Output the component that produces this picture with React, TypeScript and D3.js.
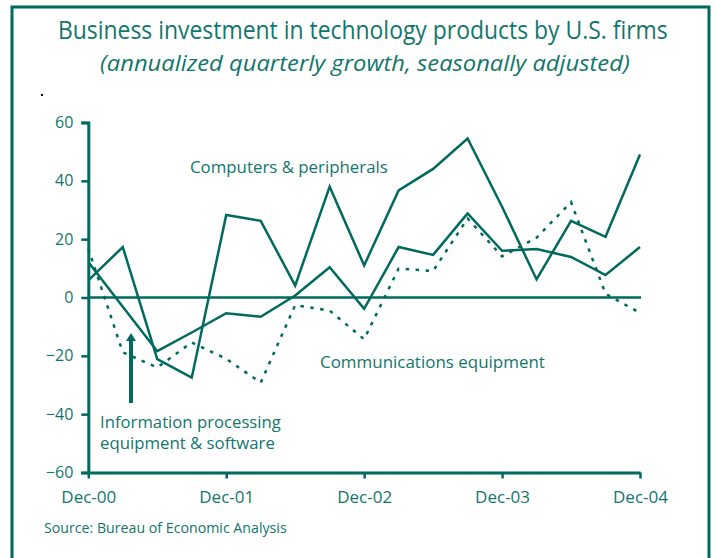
import { useEffect, useRef } from 'react'
import * as d3 from 'd3'

const quarters = [
  'Dec-00', 'Mar-01', 'Jun-01', 'Sep-01', 'Dec-01', 'Mar-02', 'Jun-02', 'Sep-02', 'Dec-02',
  'Mar-03', 'Jun-03', 'Sep-03', 'Dec-03', 'Mar-04', 'Jun-04', 'Sep-04', 'Dec-04',
]
const computers = [5.9, 17.3, -21.1, -27.5, 28.3, 26.3, 4.1, 38.0, 11.0, 36.7, 44.1, 54.5, 31.1, 6.2, 26.3, 20.8, 49.0]
const infoProcessing = [12.2, -3.2, -18.4, -12.0, -5.4, -6.6, 0.7, 10.4, -3.9, 17.3, 14.6, 28.8, 16.0, 16.6, 13.9, 7.7, 17.3]
const communications = [16.8, -18.8, -24.0, -15.4, -21.0, -29.2, -2.6, -4.5, -14.3, 9.9, 9.1, 27.1, 14.1, 20.5, 32.7, 1.3, -5.3]
const yTicks = [-60, -40, -20, 0, 20, 40, 60]
const xTickLabels = ['Dec-00', 'Dec-01', 'Dec-02', 'Dec-03', 'Dec-04']

const teal = '#006a5e'
const textTeal = '#12766b'
const font = '"Open Sans", sans-serif'

export default function App() {
  const ref = useRef<SVGSVGElement>(null)

  useEffect(() => {
    const svg = d3.select(ref.current)
    svg.selectAll('*').remove()

    const x = d3.scaleLinear().domain([0, quarters.length - 1]).range([88.3, 640])
    const y = d3.scaleLinear().domain([-60, 60]).range([472.5, 122.5])

    // text squeezed horizontally to a given width (the original face is narrow)
    const fitText = (t: string, tx: number, ty: number, w: number, size: number, italic = false) => {
      const el = svg.append('text')
        .style('font-family', font).style('font-size', `${size}px`)
        .style('font-style', italic ? 'italic' : 'normal')
        .attr('fill', textTeal).text(t)
      const natural = (el.node() as SVGTextElement).getComputedTextLength()
      el.attr('transform', `translate(${tx},${ty}) scale(${w / natural},1)`)
      return el
    }

    // frame
    svg.append('path')
      .attr('d', 'M12,560 V7 H709 V560')
      .attr('fill', 'none')
      .attr('stroke', teal)
      .attr('stroke-width', 3)

    svg.append('rect')
      .attr('x', 41).attr('y', 94).attr('width', 2).attr('height', 2)
      .attr('fill', '#000')

    fitText('Business investment in technology products by U.S. firms', 58, 38.5, 610, 25)
    fitText('(annualized quarterly growth, seasonally adjusted)', 100, 71, 530, 22, true)

    // zero line
    svg.append('line')
      .attr('x1', x(0)).attr('x2', x(quarters.length - 1) + 1)
      .attr('y1', y(0)).attr('y2', y(0))
      .attr('stroke', teal).attr('stroke-width', 2.5)

    // y axis
    const yAxis = svg.append('g').attr('transform', `translate(${x(0)},0)`)
      .call(d3.axisLeft(y).tickValues(yTicks).tickSize(7).tickPadding(8).tickFormat(d3.format('d')))
    yAxis.select('.domain').attr('stroke', teal).attr('stroke-width', 3)
    yAxis.selectAll('.tick line').attr('stroke', teal).attr('stroke-width', 2.5)
    yAxis.selectAll('.tick text')
      .attr('fill', textTeal).style('font-family', font).style('font-size', '16px')

    // x axis
    const yearIdx = xTickLabels.map(l => quarters.indexOf(l))
    const xAxis = svg.append('g').attr('transform', `translate(0,${y(-60)})`)
      .call(d3.axisBottom(x).tickValues(yearIdx).tickSize(6).tickSizeOuter(0).tickPadding(12)
        .tickFormat(d => quarters[d as number]))
    xAxis.select('.domain').attr('stroke', teal).attr('stroke-width', 3)
    xAxis.selectAll('.tick line').attr('stroke', teal).attr('stroke-width', 2.5)
    xAxis.selectAll('.tick text')
      .attr('fill', textTeal).style('font-family', font).style('font-size', '17px')

    const line = d3.line<number>().x((_, i) => x(i)).y(d => y(d))

    svg.append('path').datum(communications)
      .attr('d', line).attr('fill', 'none')
      .attr('stroke', teal).attr('stroke-width', 2.5)
      .attr('stroke-dasharray', '3.5,6.5')

    svg.append('path').datum(infoProcessing)
      .attr('d', line).attr('fill', 'none')
      .attr('stroke', teal).attr('stroke-width', 2.5)

    svg.append('path').datum(computers)
      .attr('d', line).attr('fill', 'none')
      .attr('stroke', teal).attr('stroke-width', 2.5)

    // series labels
    fitText('Computers & peripherals', 190, 173, 198, 17)
    fitText('Communications equipment', 320, 368, 225, 17)
    fitText('Information processing', 100, 427.5, 181, 17)
    fitText('equipment & software', 100, 448.5, 175, 17)

    // arrow
    svg.append('line')
      .attr('x1', 131).attr('x2', 131).attr('y1', 403).attr('y2', 340)
      .attr('stroke', teal).attr('stroke-width', 4)
    svg.append('path')
      .attr('d', 'M126,341 L131,333 L136,341 Z')
      .attr('fill', teal)

    fitText('Source: Bureau of Economic Analysis', 44, 533, 243, 14)
  }, [])

  return (
    <div style={{ position: 'absolute', left: 0, top: 0 }}>
      <svg ref={ref} width={714} height={558} style={{ display: 'block', background: '#fff' }} />
    </div>
  )
}
